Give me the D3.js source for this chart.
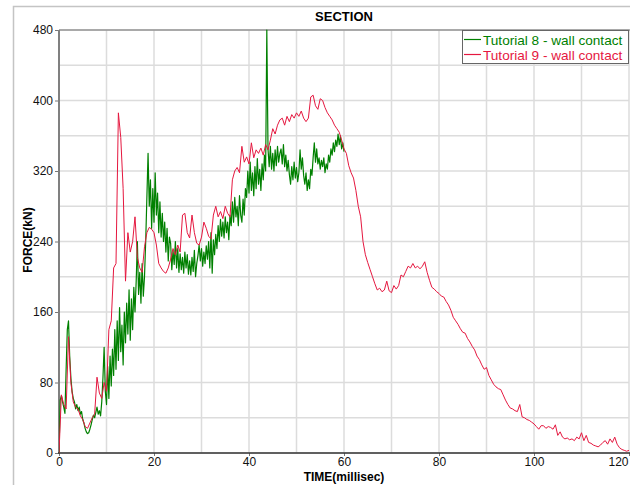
<!DOCTYPE html>
<html>
<head>
<meta charset="utf-8">
<script src="https://cdn.jsdelivr.net/npm/d3@7"></script>
<style>
  body { margin: 0; background: #fff; }
  text { font-family: "Liberation Sans", Arial, sans-serif; }
</style>
</head>
<body>
<script>
// chart data
var chartTitle = "SECTION";
var xLabel = "TIME(millisec)";
var yLabel = "FORCE(kN)";
var seriesNames = ["Tutorial 8 - wall contact", "Tutorial 9 - wall contact"];
var xTicks = [0, 20, 40, 60, 80, 100, 120];
var yTicks = [0, 80, 160, 240, 320, 400, 480];

// Tutorial 8 - sampled every 0.25 ms
var tut8Step = 0.25;
var tut8Force = [
  0, 60, 65, 58, 52, 45, 95, 140,
  150, 110, 85, 70, 62, 58, 50, 55,
  48, 52, 44, 47, 38, 34, 28, 24,
  22, 23, 27, 32, 38, 43, 40, 46,
  52, 44, 48, 42, 58, 85, 120, 70,
  55, 98, 62, 110, 76, 118, 88, 140,
  95, 150, 105, 165, 115, 145, 100, 160,
  125, 170, 135, 185, 128, 175, 140, 188,
  160, 195, 240, 180, 205, 170, 215, 178,
  200, 240, 290, 340, 280, 310, 255, 300,
  262, 318, 270, 295, 250, 285, 245, 272,
  240, 262, 228, 255, 218, 245, 238,
  208, 230, 214, 240, 210, 232, 205, 226,
  208, 222, 204, 228, 210, 225, 203, 218,
  202, 222, 206, 230, 200, 215, 224, 236,
  218, 232, 212, 228, 215, 235, 220, 240,
  210, 250, 204, 242, 225, 248, 232, 258,
  240, 265, 246, 262, 244, 268, 250, 262,
  242, 270, 258, 285, 262, 290, 268, 280,
  258, 292, 270, 262, 288, 270, 300, 290,
  320, 295, 330, 298, 318, 292, 325, 300,
  334, 305, 322, 298, 328, 310, 338, 320,
  480, 345, 325, 348, 322, 340, 320, 344,
  326, 348, 330, 340, 345, 328, 350,
  325, 338, 320, 332, 316, 305, 325, 310,
  330, 312, 324, 308, 318, 344, 322, 335,
  315, 305, 318, 298, 310, 300, 322, 315,
  335, 352, 330, 345, 328, 335, 322, 332,
  325, 335, 318, 328, 322, 338, 330, 345,
  338, 352, 342, 355, 348, 362, 350, 360,
  345, 352, 342
];

// Tutorial 9 - sampled every 0.5 ms
var tut9Step = 0.5;
var tut9Force = [
  0, 66, 55, 50, 132, 80, 58, 52,
  50, 42, 38, 30, 28, 34, 40, 44,
  86, 68, 62, 80, 70, 140, 150, 210,
  215, 386, 358, 300, 195, 250, 228, 240,
  268, 222, 210, 205, 234, 250, 256, 254,
  250, 236, 215, 210, 206, 204, 210, 220,
  232, 225, 236, 228, 270, 272, 250, 244,
  270, 250, 238, 236, 245, 262, 255, 246,
  243, 270, 280, 268, 274, 266, 280, 272,
  268, 310, 320, 324, 318, 348, 330, 336,
  328, 352, 335, 344, 340, 346, 338, 350,
  344, 355, 368, 362, 372, 378, 380,
  372, 382, 376, 384, 380, 386, 382, 388,
  380, 376, 380, 404, 406, 394, 390, 402,
  400, 392, 386, 382, 378, 372, 368, 364,
  355, 345, 340, 326, 318, 312, 298, 280,
  268, 240, 225, 216, 208, 200, 192, 185,
  187, 183, 185, 195, 184, 182, 190, 186,
  190, 202, 200, 206, 212, 210, 215, 210,
  212, 209, 212, 217, 205, 196, 188, 186,
  183, 181, 178, 177, 172, 168, 162, 154,
  150, 146, 141, 137, 136, 130, 126, 121,
  117, 110, 106, 100, 95, 97, 88, 83,
  78, 75, 73, 72, 66, 60, 55,
  51, 50, 48, 47, 55, 41, 40, 38,
  37, 35, 33, 30, 27, 31, 31, 28,
  30, 29, 27, 32, 20, 24, 18, 16,
  17, 15, 16, 14, 18, 16, 23, 14,
  20, 12, 11, 9, 8, 7, 9, 12,
  14, 10, 16, 12, 18, 10, 6, 4,
  3, 2, 3
];

var seriesColors = ["#008000", "#e5173f"];

var width = 630;
var height = 485;
var margin = { top: 30, left: 59 };
var plotW = 570;
var plotH = 423;

var svg = d3.select("body")
  .append("svg")
  .attr("width", width)
  .attr("height", height);

// outer frame
svg.append("rect")
  .attr("x", 13.5).attr("y", 6.5)
  .attr("width", 700).attr("height", 600)
  .attr("fill", "none")
  .attr("stroke", "#c4c4c4")
  .attr("stroke-width", 1.5);

var xScale = d3.scaleLinear().domain([0, 120]).range([margin.left, margin.left + plotW]);
var yScale = d3.scaleLinear().domain([0, 480]).range([margin.top + plotH, margin.top]);

// grid
var grid = svg.append("g");
grid.selectAll(".vg")
  .data(d3.range(0, 121, 10))
  .enter().append("line")
  .attr("x1", function(d) { return xScale(d); })
  .attr("x2", function(d) { return xScale(d); })
  .attr("y1", yScale(0)).attr("y2", yScale(480))
  .attr("stroke", "#dcdcdc").attr("stroke-width", 1.5);
grid.selectAll(".hg")
  .data(d3.range(0, 481, 40))
  .enter().append("line")
  .attr("x1", xScale(0)).attr("x2", xScale(120))
  .attr("y1", function(d) { return yScale(d); })
  .attr("y2", function(d) { return yScale(d); })
  .attr("stroke", "#dcdcdc").attr("stroke-width", 1.5);

// axes
var yAxis = d3.axisLeft(yScale).tickValues(yTicks).tickSize(4).tickPadding(2);
var xAxis = d3.axisBottom(xScale).tickValues(xTicks).tickSize(3).tickPadding(1);

var gy = svg.append("g")
  .attr("transform", "translate(" + margin.left + ",0)")
  .call(yAxis);
var gx = svg.append("g")
  .attr("transform", "translate(0," + (margin.top + plotH) + ")")
  .call(xAxis);

[gx, gy].forEach(function(g) {
  g.select(".domain").remove();
  g.selectAll(".tick line").attr("stroke", "#777");
  g.selectAll(".tick text")
    .attr("fill", "#111")
    .style("font-size", "12px")
    .style("font-family", "'Liberation Sans', Arial, sans-serif");
});
gx.selectAll(".tick text")
  .filter(function(d) { return d === 120; })
  .attr("text-anchor", "end")
  .attr("dx", "-1");

// plot border lines
svg.append("line")
  .attr("x1", margin.left).attr("x2", width)
  .attr("y1", margin.top).attr("y2", margin.top)
  .attr("stroke", "#6e6e6e").attr("stroke-width", 1.2);
svg.append("line")
  .attr("x1", margin.left).attr("x2", margin.left)
  .attr("y1", margin.top).attr("y2", margin.top + plotH)
  .attr("stroke", "#808080").attr("stroke-width", 2);
svg.append("line")
  .attr("x1", margin.left - 1).attr("x2", width)
  .attr("y1", margin.top + plotH).attr("y2", margin.top + plotH)
  .attr("stroke", "#333").attr("stroke-width", 1.6);

// clip
svg.append("clipPath").attr("id", "plotClip")
  .append("rect")
  .attr("x", margin.left).attr("y", margin.top - 1)
  .attr("width", plotW + 2).attr("height", plotH + 1);

var line = d3.line()
  .x(function(d) { return xScale(d.t); })
  .y(function(d) { return yScale(d.v); });

var series = [
  tut8Force.map(function(v, i) { return { t: i * tut8Step, v: v }; }),
  tut9Force.map(function(v, i) { return { t: i * tut9Step, v: v }; })
];

var plot = svg.append("g").attr("clip-path", "url(#plotClip)");
series.forEach(function(s, i) {
  plot.append("path")
    .datum(s)
    .attr("d", line)
    .attr("fill", "none")
    .attr("stroke", seriesColors[i])
    .attr("stroke-width", i === 0 ? 1.2 : 1)
    .attr("stroke-linejoin", "round");
});

// legend
var legend = svg.append("g");
legend.append("rect")
  .attr("x", 462.5).attr("y", 30.5)
  .attr("width", 166).attr("height", 33)
  .attr("fill", "#fff")
  .attr("stroke", "#666").attr("stroke-width", 1);
seriesNames.forEach(function(name, i) {
  var ly = 39.5 + i * 15;
  legend.append("line")
    .attr("x1", 464).attr("x2", 481)
    .attr("y1", ly).attr("y2", ly)
    .attr("stroke", seriesColors[i]).attr("stroke-width", 1.2);
  legend.append("text")
    .attr("x", 483).attr("y", ly + 5)
    .attr("fill", seriesColors[i])
    .style("font-size", "13.6px")
    .text(name);
});

// titles
svg.append("text")
  .attr("x", 344).attr("y", 21)
  .attr("text-anchor", "middle")
  .style("font-size", "13px").style("font-weight", "bold")
  .text(chartTitle);
svg.append("text")
  .attr("x", 344).attr("y", 481)
  .attr("text-anchor", "middle")
  .style("font-size", "12px").style("font-weight", "bold")
  .text(xLabel);
svg.append("text")
  .attr("transform", "translate(32,240) rotate(-90)")
  .attr("text-anchor", "middle")
  .style("font-size", "12px").style("font-weight", "bold")
  .text(yLabel);
</script>
</body>
</html>
